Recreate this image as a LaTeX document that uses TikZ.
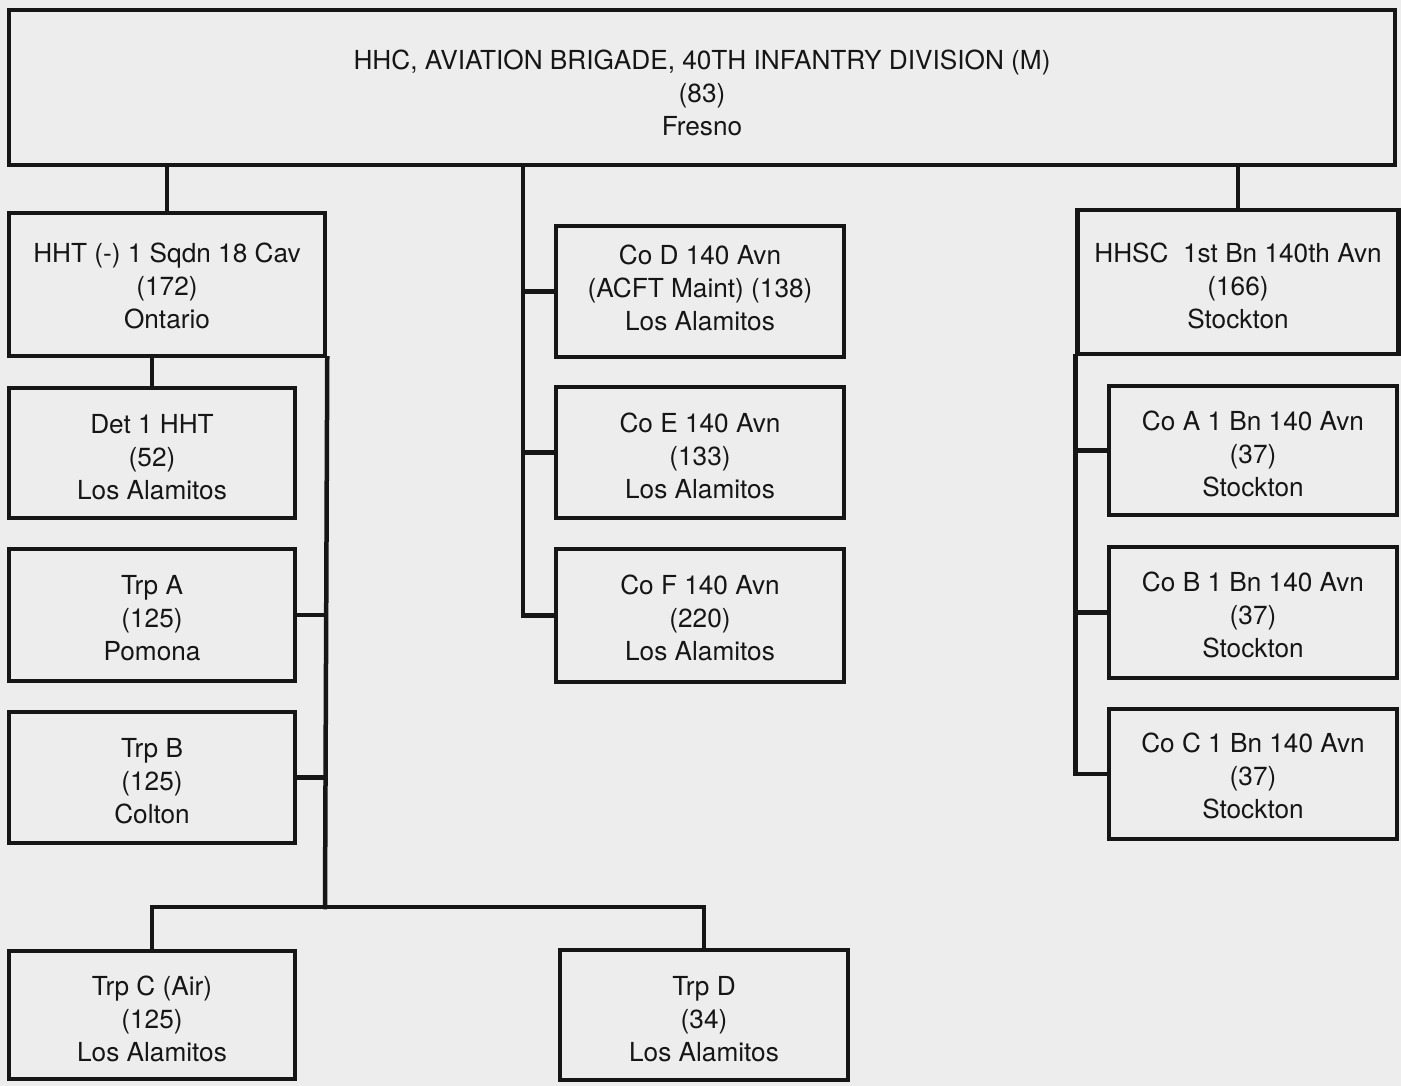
\documentclass[tikz,border=0pt]{standalone}
\usepackage{fontspec}
\setmainfont{TeX Gyre Heros}
\definecolor{paper}{RGB}{237,237,237}
\definecolor{ink}{RGB}{22,22,22}
\newcommand\topstrut[1]{\rule{0pt}{#1}}
\newcommand\botstrut[1]{\rule[-#1]{0pt}{0pt}}
\begin{document}
\begin{tikzpicture}[x=1pt,y=-1pt,
  box/.style={draw=ink, line width=4.5pt, inner sep=0pt, align=center, text=ink,
    font=\fontsize{26.2}{33}\selectfont},
  link/.style={draw=ink, line width=4.5pt, line cap=rect}]
\fill[paper] (0,0) rectangle (1401,1086);
\useasboundingbox (0,0) rectangle (1401,1086);

% nodes
\node[box, minimum width=1386pt, minimum height=155pt] (top) at (702,87.5)
  {\topstrut{29.5pt}HHC, AVIATION BRIGADE, 40TH INFANTRY DIVISION (M)\\(83)\\Fresno};

\node[box, minimum width=316pt, minimum height=143pt] (hht) at (167,284.5)
  {\topstrut{23pt}HHT (-) 1 Sqdn 18 Cav\\(172)\\Ontario};
\node[box, minimum width=286pt, minimum height=130pt] (det) at (152,453)
  {\topstrut{28pt}Det 1 HHT\\(52)\\Los Alamitos};
\node[box, minimum width=286pt, minimum height=132pt] (trpa) at (152,615)
  {\topstrut{25.5pt}Trp A\\(125)\\Pomona};
\node[box, minimum width=286pt, minimum height=131pt] (trpb) at (152,777.5)
  {\topstrut{25.5pt}Trp B\\(125)\\Colton};
\node[box, minimum width=286pt, minimum height=128pt] (trpc) at (152,1015)
  {\topstrut{27pt}Trp C (Air)\\(125)\\Los Alamitos};
\node[box, minimum width=288pt, minimum height=130pt] (trpd) at (704,1015)
  {\topstrut{27pt}Trp D\\(34)\\Los Alamitos};

\node[box, minimum width=288pt, minimum height=131pt] (cod) at (700,291.5)
  {Co D 140 Avn\\(ACFT Maint) (138)\\Los Alamitos\botstrut{7pt}};
\node[box, minimum width=288pt, minimum height=131pt] (coe) at (700,452.5)
  {\topstrut{27pt}Co E 140 Avn\\(133)\\Los Alamitos};
\node[box, minimum width=288pt, minimum height=133pt] (cof) at (700,615.5)
  {\topstrut{23.5pt}Co F 140 Avn\\(220)\\Los Alamitos};

\node[box, minimum width=321pt, minimum height=144pt] (hhsc) at (1238,282)
  {\topstrut{27pt}HHSC\ \ 1st Bn 140th Avn\\(166)\\Stockton};
\node[box, minimum width=288pt, minimum height=129pt] (coa) at (1253,450.5)
  {\topstrut{27pt}Co A 1 Bn 140 Avn\\(37)\\Stockton};
\node[box, minimum width=288pt, minimum height=131pt] (cob) at (1253,612.5)
  {\topstrut{23.5pt}Co B 1 Bn 140 Avn\\(37)\\Stockton};
\node[box, minimum width=288pt, minimum height=130pt] (coc) at (1253,774)
  {\topstrut{23.5pt}Co C 1 Bn 140 Avn\\(37)\\Stockton};

% helper coordinates
\coordinate (lb) at (325,907);
\coordinate (mt) at (523,0);

% connectors: left group
\draw[link] (hht.north) -- (hht.north |- top.south);
\draw[link] (det.north) -- (det.north |- hht.south);
\draw[link] (hht.south east) -- (lb);
\draw[link] (trpa.east) -- (trpa.east -| lb);
\draw[link] (trpb.east) -- (trpb.east -| lb);
\draw[link] (trpc.north) |- (lb) -| (trpd.north);

% middle group
\draw[link] (top.south -| mt) |- (cof.west);
\draw[link] (cod.west) -- (cod.west -| mt);
\draw[link] (coe.west) -- (coe.west -| mt);

% right group
\draw[link] (hhsc.north) -- (hhsc.north |- top.south);
\draw[link] (hhsc.south west) |- (coc.west);
\draw[link] (coa.west) -- (coa.west -| hhsc.south west);
\draw[link] (cob.west) -- (cob.west -| hhsc.south west);
\end{tikzpicture}
\end{document}
